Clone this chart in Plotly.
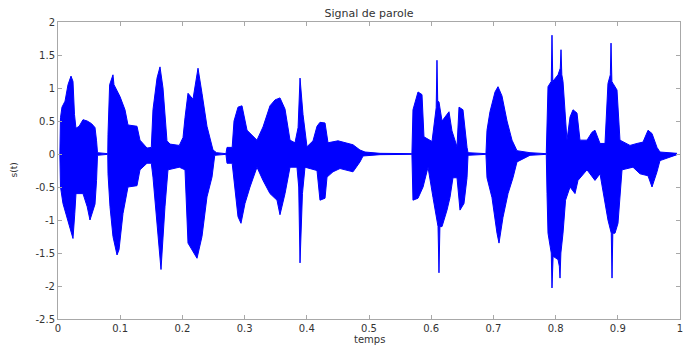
import plotly.graph_objects as go

# Envelope of the speech waveform (time in s, amplitude)
t_upper = [0.0030, 0.0040, 0.0064, 0.0113, 0.0161, 0.0209, 0.0241, 0.0265, 0.0289, 0.0340,
           0.0402, 0.0470, 0.0540, 0.0595, 0.0620, 0.0635, 0.0800,
           0.0804, 0.0830, 0.0884, 0.0900, 0.0949, 0.0997, 0.1077, 0.1125, 0.1270, 0.1318,
           0.1431, 0.1500, 0.1527, 0.1592, 0.1640, 0.1688, 0.1752, 0.1801, 0.1950, 0.2010,
           0.2042, 0.2090, 0.2170, 0.2251, 0.2315, 0.2395, 0.2492, 0.2550, 0.2700,
           0.2717, 0.2800, 0.2830, 0.2894, 0.2958, 0.3039, 0.3199, 0.3296, 0.3408, 0.3489,
           0.3569, 0.3650, 0.3730, 0.3810, 0.3860, 0.3891, 0.3939, 0.4003, 0.4100, 0.4164,
           0.4212, 0.4293, 0.4341, 0.4502, 0.4582, 0.4743, 0.4855, 0.4936, 0.5177, 0.5690,
           0.5707, 0.5788, 0.5852, 0.5884, 0.6013, 0.6061, 0.6080, 0.6093, 0.6105, 0.6125,
           0.6174, 0.6222, 0.6286, 0.6334, 0.6415, 0.6447, 0.6511, 0.6576, 0.6592, 0.6880,
           0.6897, 0.6945, 0.7026, 0.7074, 0.7138, 0.7219, 0.7299, 0.7379, 0.7588, 0.7850,
           0.7862, 0.7878, 0.7930, 0.7942, 0.7955, 0.7974, 0.8039, 0.8075, 0.8087, 0.8100,
           0.8119, 0.8183, 0.8232, 0.8280, 0.8344, 0.8392, 0.8505, 0.8585, 0.8633, 0.8714,
           0.8794, 0.8842, 0.8880, 0.8891, 0.8905, 0.8923, 0.8987, 0.9035, 0.9196, 0.9309,
           0.9405, 0.9486, 0.9550, 0.9630, 0.9678, 0.9952]
v_upper = [0.0, 0.55, 0.71, 0.80, 1.05, 1.18, 1.10, 0.60, 0.39, 0.42,
           0.52, 0.50, 0.46, 0.40, 0.20, 0.02, 0.005,
           0.30, 1.05, 1.20, 1.05, 0.97, 0.87, 0.67, 0.44, 0.42, 0.21,
           0.09, 0.10, 0.67, 1.15, 1.32, 1.00, 0.20, 0.15, 0.13, 0.25,
           0.55, 0.92, 0.83, 1.30, 0.92, 0.42, 0.06, 0.02, 0.005,
           0.10, 0.10, 0.50, 0.71, 0.73, 0.36, 0.21, 0.41, 0.73, 0.82,
           0.85, 0.68, 0.21, 0.17, 0.40, 1.15, 0.60, 0.11, 0.20, 0.42,
           0.48, 0.47, 0.17, 0.20, 0.18, 0.14, 0.06, 0.03, 0.01, 0.005,
           0.67, 0.94, 0.90, 0.26, 0.19, 0.56, 0.70, 1.42, 0.80, 0.79,
           0.50, 0.56, 0.64, 0.35, 0.11, 0.71, 0.67, 0.10, 0.02, 0.005,
           0.36, 0.64, 0.94, 1.02, 0.88, 0.50, 0.21, 0.05, 0.02, 0.005,
           0.50, 1.02, 1.10, 1.80, 1.10, 1.12, 1.20, 1.30, 1.58, 1.20,
           1.10, 0.21, 0.56, 0.67, 0.62, 0.21, 0.21, 0.33, 0.36, 0.16,
           0.16, 1.07, 1.20, 1.68, 1.10, 1.07, 0.97, 0.21, 0.13, 0.16,
           0.18, 0.36, 0.31, 0.10, 0.03, 0.01]

t_lower = [0.0030, 0.0040, 0.0080, 0.0161, 0.0241, 0.0270, 0.0289, 0.0402, 0.0470, 0.0514,
           0.0595, 0.0620, 0.0635, 0.0800,
           0.0804, 0.0836, 0.0884, 0.0949, 0.0981, 0.1045, 0.1125, 0.1270, 0.1318, 0.1431,
           0.1500, 0.1527, 0.1608, 0.1656, 0.1720, 0.1768, 0.1950, 0.2042, 0.2090, 0.2154,
           0.2235, 0.2315, 0.2395, 0.2476, 0.2520, 0.2700,
           0.2717, 0.2800, 0.2846, 0.2894, 0.2942, 0.3006, 0.3087, 0.3199, 0.3296, 0.3408,
           0.3521, 0.3569, 0.3650, 0.3730, 0.3842, 0.3870, 0.3891, 0.3930, 0.3971, 0.4164,
           0.4212, 0.4293, 0.4325, 0.4421, 0.4534, 0.4743, 0.4855, 0.4904, 0.5177, 0.5690,
           0.5707, 0.5788, 0.5869, 0.5949, 0.6029, 0.6110, 0.6125, 0.6140, 0.6174, 0.6254,
           0.6302, 0.6350, 0.6415, 0.6463, 0.6527, 0.6576, 0.6592, 0.6880,
           0.6897, 0.6977, 0.7058, 0.7090, 0.7154, 0.7235, 0.7315, 0.7379, 0.7588, 0.7850,
           0.7862, 0.7878, 0.7930, 0.7942, 0.7960, 0.8039, 0.8060, 0.8071, 0.8085, 0.8119,
           0.8160, 0.8232, 0.8312, 0.8360, 0.8505, 0.8633, 0.8714, 0.8842, 0.8895, 0.8907,
           0.8920, 0.8955, 0.9003, 0.9068, 0.9244, 0.9357, 0.9486, 0.9550, 0.9630, 0.9678,
           0.9952]
v_lower = [0.0, -0.50, -0.75, -1.00, -1.28, -0.90, -0.60, -0.60, -0.80, -1.00,
           -0.76, -0.40, -0.02, -0.005,
           -0.30, -0.80, -1.25, -1.53, -1.45, -0.90, -0.50, -0.48, -0.24, -0.14,
           -0.14, -0.35, -1.25, -1.75, -0.80, -0.24, -0.20, -0.24, -1.35, -1.45,
           -1.58, -1.25, -0.65, -0.35, -0.02, -0.005,
           -0.14, -0.14, -0.50, -0.95, -1.05, -0.75, -0.50, -0.20, -0.40, -0.60,
           -0.70, -0.92, -0.60, -0.20, -0.20, -0.50, -1.65, -0.60, -0.20, -0.25,
           -0.70, -0.67, -0.35, -0.27, -0.22, -0.27, -0.12, -0.03, -0.01, -0.005,
           -0.70, -0.67, -0.50, -0.20, -0.66, -1.10, -1.80, -1.10, -1.10, -0.85,
           -0.66, -0.36, -0.36, -0.85, -0.75, -0.36, -0.02, -0.005,
           -0.36, -0.66, -1.20, -1.35, -0.96, -0.60, -0.36, -0.12, -0.02, -0.005,
           -0.60, -1.20, -1.50, -2.03, -1.55, -1.60, -1.70, -1.88, -1.50, -1.20,
           -0.70, -0.50, -0.60, -0.40, -0.24, -0.40, -0.30, -1.00, -1.20, -1.88,
           -1.20, -1.20, -1.05, -0.24, -0.20, -0.30, -0.33, -0.50, -0.27, -0.10,
           -0.01]

x_ticks = [0, 0.1, 0.2, 0.3, 0.4, 0.5, 0.6, 0.7, 0.8, 0.9, 1]
x_ticktext = ["0", "0.1", "0.2", "0.3", "0.4", "0.5", "0.6", "0.7", "0.8", "0.9", "1"]
y_ticks = [-2.5, -2, -1.5, -1, -0.5, 0, 0.5, 1, 1.5, 2]
y_ticktext = ["-2.5", "-2", "-1.5", "-1", "-0.5", "0", "0.5", "1", "1.5", "2"]

BLUE = "#0000FF"
FONT = "DejaVu Sans"
TXT = "#333333"

fig = go.Figure()
fig.add_trace(go.Scatter(x=t_upper, y=v_upper, mode="lines", fill="tozeroy",
                         line=dict(color=BLUE, width=1), fillcolor=BLUE,
                         showlegend=False, hoverinfo="skip"))
fig.add_trace(go.Scatter(x=t_lower, y=v_lower, mode="lines", fill="tozeroy",
                         line=dict(color=BLUE, width=1), fillcolor=BLUE,
                         showlegend=False, hoverinfo="skip"))

axis_common = dict(showgrid=False, zeroline=False, showline=True, linecolor="#a8a8a8",
                   linewidth=1, mirror="ticks", ticks="inside", ticklen=4,
                   tickcolor="#a8a8a8", tickfont=dict(family=FONT, size=10, color=TXT))

fig.update_layout(
    width=689, height=345,
    margin=dict(l=58, r=9, t=22, b=26, autoexpand=False),
    paper_bgcolor="white", plot_bgcolor="white",
    title=dict(text="Signal de parole", x=0.5, xref="paper", xanchor="center",
               y=1 - 13 / 345, yanchor="middle", yref="container",
               font=dict(family=FONT, size=11, color=TXT)),
    xaxis=dict(range=[0, 1], tickvals=x_ticks, ticktext=x_ticktext, **axis_common),
    yaxis=dict(range=[-2.5, 2], tickvals=y_ticks, ticktext=y_ticktext, **axis_common),
    annotations=[
        dict(text="temps", x=0.5, y=-20 / 297, xref="paper", yref="paper",
             showarrow=False, xanchor="center", yanchor="middle",
             font=dict(family=FONT, size=10, color=TXT)),
        dict(text="s(t)", x=-45 / 622, y=0.5, xref="paper", yref="paper",
             showarrow=False, textangle=-90, xanchor="center", yanchor="middle",
             font=dict(family=FONT, size=9, color=TXT)),
    ],
)

fig.write_html("out.html")
